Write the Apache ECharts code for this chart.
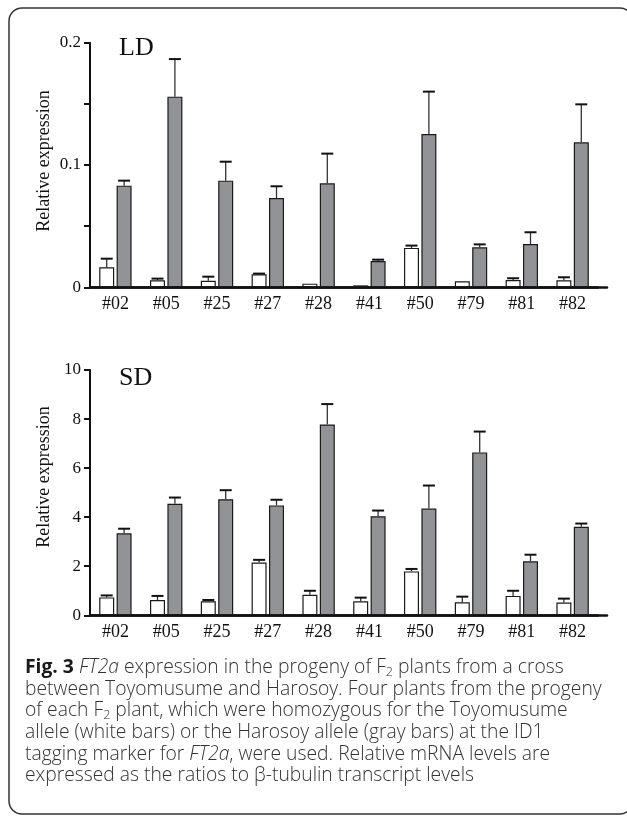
<!DOCTYPE html>
<html>
<head>
<meta charset="utf-8">
<script src="https://cdn.jsdelivr.net/npm/echarts@6/dist/echarts.min.js"></script>
<style>
  html, body { margin: 0; padding: 0; background: #fff; }
  #chart { width: 627px; height: 816px; }
</style>
</head>
<body>
<div id="chart"></div>
<script>
// plants (F2 lines)
const categories = ['#02', '#05', '#25', '#27', '#28', '#41', '#50', '#79', '#81', '#82'];

// long day (LD): white = Toyomusume allele, gray = Harosoy allele
const ldWhite   = [0.0164, 0.0057, 0.0054, 0.0106, 0.0030, 0.0016, 0.0322, 0.0049, 0.0060, 0.0057];
const ldWhiteSE = [0.0070, 0.0014, 0.0033, 0.0006, 0.0000, 0.0000, 0.0019, 0.0000, 0.0014, 0.0025];
const ldGray    = [0.0831, 0.1559, 0.0872, 0.0730, 0.0850, 0.0215, 0.1253, 0.0327, 0.0354, 0.1185];
const ldGraySE  = [0.0041, 0.0307, 0.0155, 0.0096, 0.0243, 0.0011, 0.0347, 0.0024, 0.0096, 0.0311];

// short day (SD)
const sdWhite   = [0.73, 0.625, 0.57, 2.15, 0.84, 0.57, 1.79, 0.53, 0.79, 0.52];
const sdWhiteSE = [0.08, 0.165, 0.055, 0.11, 0.16, 0.15, 0.10, 0.23, 0.21, 0.16];
const sdGray    = [3.34, 4.55, 4.73, 4.48, 7.78, 4.04, 4.35, 6.64, 2.20, 3.61];
const sdGraySE  = [0.19, 0.25, 0.37, 0.23, 0.83, 0.23, 0.94, 0.85, 0.27, 0.13];

// axis ticks
const ldTicks = { min: 0, max: 0.2, interval: 0.05 };
const sdTicks = { min: 0, max: 10, interval: 2 };

const captionLines = [
  '{b|Fig. 3} {i|FT2a} expression in the progeny of F{s|2} plants from a cross',
  'between Toyomusume and Harosoy. Four plants from the progeny',
  'of each F{s|2} plant, which were homozygous for the Toyomusume',
  'allele (white bars) or the Harosoy allele (gray bars) at the ID1',
  'tagging marker for {i|FT2a}, were used. Relative mRNA levels are',
  'expressed as the ratios to β-tubulin transcript levels'
];

const SERIF = '"Liberation Serif", "DejaVu Serif", serif';
const SANS = '"Open Sans", "Noto Sans", sans-serif';
const BAR_W = 15, BAR_GAP = 0.16;
const DX = (BAR_W + BAR_W * BAR_GAP) / 2; // half distance between the two bars' centres
const CAP_FS = 19.3, CAP_LH = 21.6;

let chart = echarts.init(document.getElementById('chart'), null, { renderer: 'canvas' });

function grids(top, height) {
  return [
    { left: 90, top: top, width: 508, height: height, outerBoundsMode: 'none' },
    { left: 90, top: top, width: 517, height: height, outerBoundsMode: 'none' } // axis line runs a bit past last bar
  ];
}

function catAxis(gi) {
  return {
    type: 'category', gridIndex: gi, data: categories,
    axisLine: { lineStyle: { color: '#111', width: 2.5 } },
    axisTick: { show: false },
    axisLabel: { color: '#111', fontFamily: SERIF, fontSize: 18, margin: 8, interval: 0 },
    splitLine: { show: false }
  };
}

function extAxis(gi) {
  return {
    type: 'value', gridIndex: gi, min: 0, max: 1,
    axisLine: { show: true, onZero: false, lineStyle: { color: '#111', width: 2.5 } },
    axisTick: { show: false }, axisLabel: { show: false }, splitLine: { show: false }
  };
}

function valAxis(gi, t, fmt) {
  return {
    type: 'value', gridIndex: gi, min: t.min, max: t.max, interval: t.interval,
    axisLine: { show: true, lineStyle: { color: '#111', width: 2 } },
    axisTick: { show: true, inside: false, length: 6, lineStyle: { color: '#111', width: 2 } },
    axisLabel: { color: '#111', fontFamily: SERIF, fontSize: 17, margin: 9, formatter: fmt },
    splitLine: { show: false }
  };
}

function barSeries(xi, yi, data, fill) {
  return {
    type: 'bar', xAxisIndex: xi, yAxisIndex: yi, data: data,
    barWidth: BAR_W, barGap: (BAR_GAP * 100) + '%',
    itemStyle: { color: fill, borderColor: '#1a1a1a', borderWidth: 1.2 },
    emphasis: { disabled: true }, silent: true
  };
}

function errSeries(xi, yi, mean, se, side) {
  return {
    type: 'custom', xAxisIndex: xi, yAxisIndex: yi, silent: true, z: 5,
    data: mean.map((m, i) => [i, m, se[i]]),
    renderItem: function (params, api) {
      const m = api.value(1), e = api.value(2);
      if (!e) return null;
      const base = api.coord([api.value(0), m]);
      const top = api.coord([api.value(0), m + e]);
      const x = base[0] + side * DX;
      return {
        type: 'group',
        children: [
          { type: 'line', shape: { x1: x, y1: base[1], x2: x, y2: top[1] },
            style: { stroke: '#333', lineWidth: 1.3 } },
          { type: 'line', shape: { x1: x - 6, y1: top[1], x2: x + 6, y2: top[1] },
            style: { stroke: '#111', lineWidth: 2 } }
        ]
      };
    }
  };
}

const ldFmt = function (v) {
  const r = Math.round(v * 100);
  if (r % 10 !== 0) return '';
  return r === 0 ? '0' : String(r / 100);
};

let option = {
  backgroundColor: '#fff',
  animation: false,
  grid: [].concat(grids(42.7, 244.6), grids(370, 245.3)),
  xAxis: [catAxis(0), extAxis(1), catAxis(2), extAxis(3)],
  yAxis: [
    valAxis(0, ldTicks, ldFmt),
    { type: 'value', gridIndex: 1, show: false, min: 0, max: 1 },
    valAxis(2, sdTicks, function (v) { return String(v); }),
    { type: 'value', gridIndex: 3, show: false, min: 0, max: 1 }
  ],
  series: [
    barSeries(0, 0, ldWhite, '#ffffff'),
    barSeries(0, 0, ldGray, '#929397'),
    errSeries(0, 0, ldWhite, ldWhiteSE, -1),
    errSeries(0, 0, ldGray, ldGraySE, 1),
    barSeries(2, 2, sdWhite, '#ffffff'),
    barSeries(2, 2, sdGray, '#929397'),
    errSeries(2, 2, sdWhite, sdWhiteSE, -1),
    errSeries(2, 2, sdGray, sdGraySE, 1)
  ],
  graphic: [
    // frame
    { type: 'rect', z: -1, shape: { x: 9, y: 8, width: 624, height: 806, r: 13 },
      style: { fill: 'none', stroke: '#333', lineWidth: 1.5 } },
    // panel labels
    { type: 'text', x: 119, y: 48, style: { text: 'LD', fontFamily: SERIF, fontSize: 26, fill: '#111', verticalAlign: 'middle' } },
    { type: 'text', x: 119, y: 378, style: { text: 'SD', fontFamily: SERIF, fontSize: 26, fill: '#111', verticalAlign: 'middle' } },
    // y titles
    { type: 'text', x: 44.5, y: 161, rotation: Math.PI / 2,
      style: { text: 'Relative expression', fontFamily: SERIF, fontSize: 18, fill: '#111', align: 'center', verticalAlign: 'middle' } },
    { type: 'text', x: 44.5, y: 477, rotation: Math.PI / 2,
      style: { text: 'Relative expression', fontFamily: SERIF, fontSize: 18, fill: '#111', align: 'center', verticalAlign: 'middle' } },
    // caption
    { type: 'text', x: 25, y: 657,
      style: {
        text: captionLines.join('\n'),
        fontFamily: SANS, fontSize: CAP_FS, fontWeight: 300, lineHeight: CAP_LH, fill: '#333',
        rich: {
          b: { fontFamily: SANS, fontSize: CAP_FS, fontWeight: 'bold', fill: '#1a1a1a', lineHeight: CAP_LH },
          i: { fontFamily: SANS, fontSize: CAP_FS, fontWeight: 300, fontStyle: 'italic', fill: '#333', lineHeight: CAP_LH },
          s: { fontFamily: SANS, fontSize: 12.5, fontWeight: 300, fill: '#333', lineHeight: 12.5, verticalAlign: 'bottom' }
        }
      } }
  ]
};

option && chart.setOption(option);
</script>
</body>
</html>
